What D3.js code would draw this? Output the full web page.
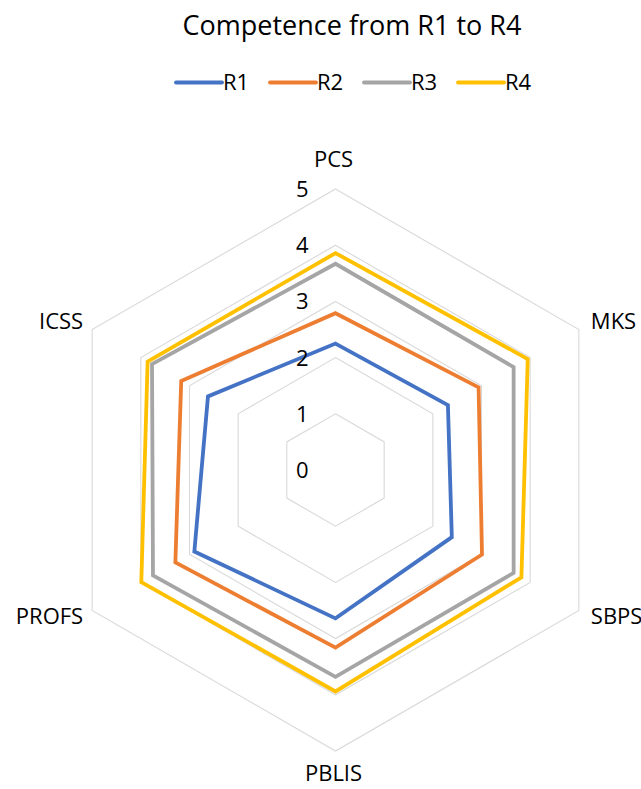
<!DOCTYPE html>
<html>
<head>
<meta charset="utf-8">
<script src="https://cdn.jsdelivr.net/npm/d3@7"></script>
<style>
  html, body { margin: 0; padding: 0; background: #ffffff; }
  svg { display: block; font-family: "Open Sans", "Noto Sans", sans-serif; }
</style>
</head>
<body>
<svg id="chart" width="641" height="789"></svg>
<script>
// Competence categories, clockwise from the top
const categories = ["PCS", "MKS", "SBPS", "PBLIS", "PROFS", "ICSS"];
const seriesNames = ["R1", "R2", "R3", "R4"];
const r1 = [2.25, 2.31, 2.39, 2.64, 2.90, 2.62];
const r2 = [2.79, 2.94, 3.01, 3.16, 3.29, 3.17];
const r3 = [3.67, 3.66, 3.66, 3.68, 3.75, 3.77];
const r4 = [3.86, 3.95, 3.82, 3.94, 3.99, 3.86];
const tickValues = [0, 1, 2, 3, 4, 5];
const colors = ["#4472C4", "#ED7D31", "#A5A5A5", "#FFC000"];
const chartTitle = "Competence from R1 to R4";

const series = [r1, r2, r3, r4];

const svg = d3.select("#chart");
const cx = 335.5, cy = 470;
const rScale = d3.scaleLinear().domain([0, 5]).range([0, 281]);
const angle = d3.scalePoint().domain(categories).range([0, 2 * Math.PI * 5 / 6]);

const g = svg.append("g").attr("transform", `translate(${cx},${cy})`);

// Hexagonal grid rings
const ring = d3.lineRadial()
  .angle(d => angle(d.c))
  .radius(d => rScale(d.v))
  .curve(d3.curveLinearClosed);

g.selectAll("path.grid")
  .data(tickValues.filter(t => t > 0))
  .join("path")
  .attr("class", "grid")
  .attr("d", t => ring(categories.map(c => ({ c, v: t }))))
  .attr("fill", "none")
  .attr("stroke", "#D9D9D9")
  .attr("stroke-width", 1.1);

// Series outlines
g.selectAll("path.series")
  .data(series)
  .join("path")
  .attr("class", "series")
  .attr("d", vals => ring(categories.map((c, i) => ({ c, v: vals[i] }))))
  .attr("fill", "none")
  .attr("stroke", (d, i) => colors[i])
  .attr("stroke-width", 3.8)
  .attr("stroke-linejoin", "miter");

// Value axis labels
g.selectAll("text.tick")
  .data(tickValues)
  .join("text")
  .attr("class", "tick")
  .attr("x", -27)
  .attr("y", t => -rScale(t))
  .attr("dy", "0.36em")
  .attr("text-anchor", "end")
  .attr("font-size", 22)
  .attr("fill", "#000")
  .text(d => d);

// Category labels around the outer ring
const outer = rScale(5);
const labelPos = c => {
  const a = angle(c);
  const x = outer * Math.sin(a), y = -outer * Math.cos(a);
  const s = Math.sin(a), k = Math.cos(a);
  if (Math.abs(s) < 0.01) {
    return { x: x - 2, y: k > 0 ? y - 22 : y + 30, anchor: "middle" };
  }
  return {
    x: x + (s > 0 ? 12 : -9),
    y: k > 0 ? y - 1 : y + 13,
    anchor: s > 0 ? "start" : "end"
  };
};

g.selectAll("text.cat")
  .data(categories)
  .join("text")
  .attr("class", "cat")
  .attr("x", c => labelPos(c).x)
  .attr("y", c => labelPos(c).y)
  .attr("text-anchor", c => labelPos(c).anchor)
  .attr("font-size", 22)
  .attr("fill", "#000")
  .text(c => c);

// Title
svg.append("text")
  .attr("x", 352)
  .attr("y", 35)
  .attr("text-anchor", "middle")
  .attr("font-size", 27)
  .attr("fill", "#000")
  .text(chartTitle);

// Legend
const legendX = d3.scalePoint().domain(seriesNames).range([176, 458]);
const legend = svg.append("g");
const item = legend.selectAll("g")
  .data(seriesNames)
  .join("g")
  .attr("transform", d => `translate(${legendX(d)},82.5)`);
item.append("line")
  .attr("x1", 0).attr("x2", 46)
  .attr("stroke", (d, i) => colors[i])
  .attr("stroke-width", 3.8)
  .attr("stroke-linecap", "round");
item.append("text")
  .attr("x", 47)
  .attr("dy", "0.36em")
  .attr("font-size", 22)
  .attr("fill", "#000")
  .text(d => d);
</script>
</body>
</html>
